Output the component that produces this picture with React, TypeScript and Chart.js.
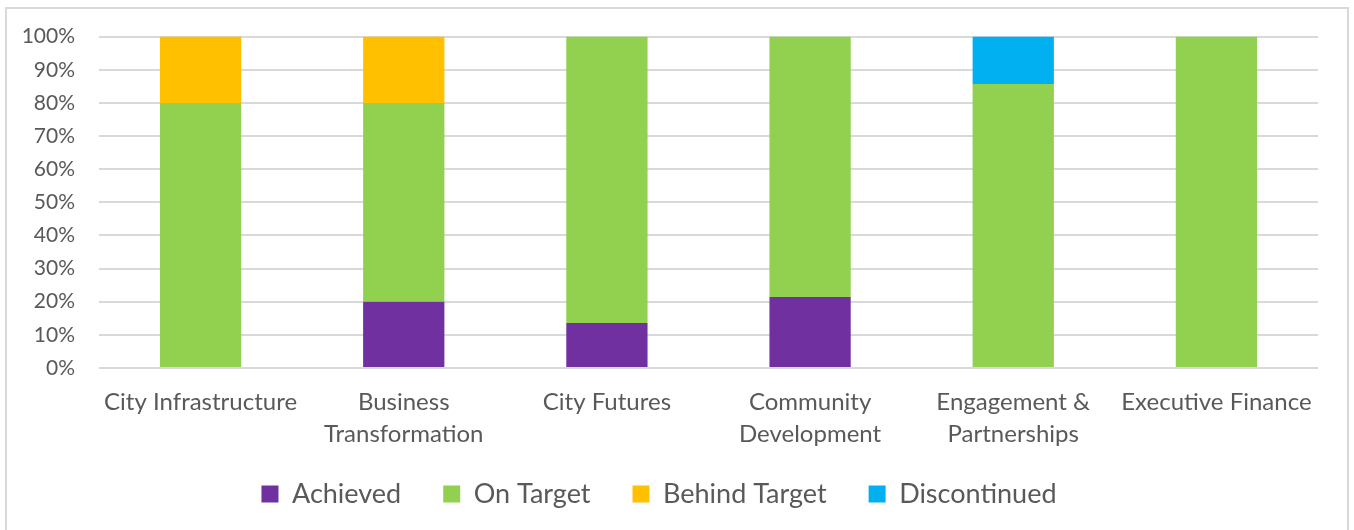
import React, { useEffect, useRef } from "react";
import { Chart, registerables } from "chart.js";

Chart.register(...registerables);

const categories: (string | string[])[] = [
  "City Infrastructure",
  ["Business", "Transformation"],
  "City Futures",
  ["Community", "Development"],
  ["Engagement &", "Partnerships"],
  "Executive Finance",
];

const achieved = [0, 20, 13.6, 21.4, 0, 0];
const onTarget = [80, 60, 86.4, 78.6, 85.7, 100];
const behindTarget = [20, 20, 0, 0, 0, 0];
const discontinued = [0, 0, 0, 0, 14.3, 0];

const yTicks = [0, 10, 20, 30, 40, 50, 60, 70, 80, 90, 100];

const FONT = "Lato, 'Open Sans', sans-serif";
const TEXT = "#595959";

// moves the legend up a little so that its gap to the bars matches the reference
const legendShift = {
  id: "legendShift",
  afterLayout(chart: any) {
    const l = chart.legend;
    if (!l) return;
    l.top -= 12.5;
    l.bottom -= 12.5;
  },
};

export default function App() {
  const ref = useRef<HTMLCanvasElement | null>(null);

  useEffect(() => {
    if (!ref.current) return;
    const chart = new Chart(ref.current, {
      type: "bar",
      data: {
        labels: categories,
        datasets: [
          { label: "Achieved", data: achieved, backgroundColor: "#7030A0" },
          { label: "On Target", data: onTarget, backgroundColor: "#92D050" },
          { label: "Behind Target", data: behindTarget, backgroundColor: "#FFC000" },
          { label: "Discontinued", data: discontinued, backgroundColor: "#00B0F0" },
        ],
      },
      plugins: [legendShift],
      options: {
        responsive: false,
        animation: false,
        maintainAspectRatio: false,
        layout: { padding: { left: 0, right: 36, top: 26, bottom: 0 } },
        datasets: { bar: { barPercentage: 0.4, categoryPercentage: 1 } },
        scales: {
          x: {
            stacked: true,
            grid: { display: false, drawTicks: false },
            border: { display: false },
            ticks: {
              color: TEXT,
              font: { family: FONT, size: 24, lineHeight: 1.35 },
              padding: 18,
              maxRotation: 0,
              autoSkip: false,
            },
            afterFit: (s: any) => {
              s.height = 83;
            },
          },
          y: {
            stacked: true,
            min: 0,
            max: 100,
            afterBuildTicks: (s: any) => {
              s.ticks = yTicks.map((v) => ({ value: v }));
            },
            grid: { color: "#d9d9d9", lineWidth: 2, drawTicks: false },
            border: { display: false },
            ticks: {
              color: TEXT,
              font: { family: FONT, size: 21 },
              padding: 24,
              callback: (v: any) => v + "%",
            },
            afterFit: (s: any) => {
              s.width = 99;
            },
          },
        },
        plugins: {
          tooltip: { enabled: false },
          legend: {
            position: "bottom",
            labels: {
              color: TEXT,
              font: { family: FONT, size: 27 },
              boxWidth: 17,
              boxHeight: 17,
              padding: 42,
            },
          },
        },
      },
    });
    return () => chart.destroy();
  }, []);

  return (
    <div
      style={{
        position: "absolute",
        left: 0,
        top: 0,
        width: 1354,
        height: 530,
        background: "#fff",
        overflow: "hidden",
      }}
    >
      <canvas ref={ref} width={1354} height={530} style={{ position: "absolute", left: 0, top: 0 }} />
      <div
        style={{
          position: "absolute",
          left: 5,
          top: 7,
          width: 1340,
          height: 521,
          border: "2px solid #d9d9d9",
          pointerEvents: "none",
        }}
      />
    </div>
  );
}
